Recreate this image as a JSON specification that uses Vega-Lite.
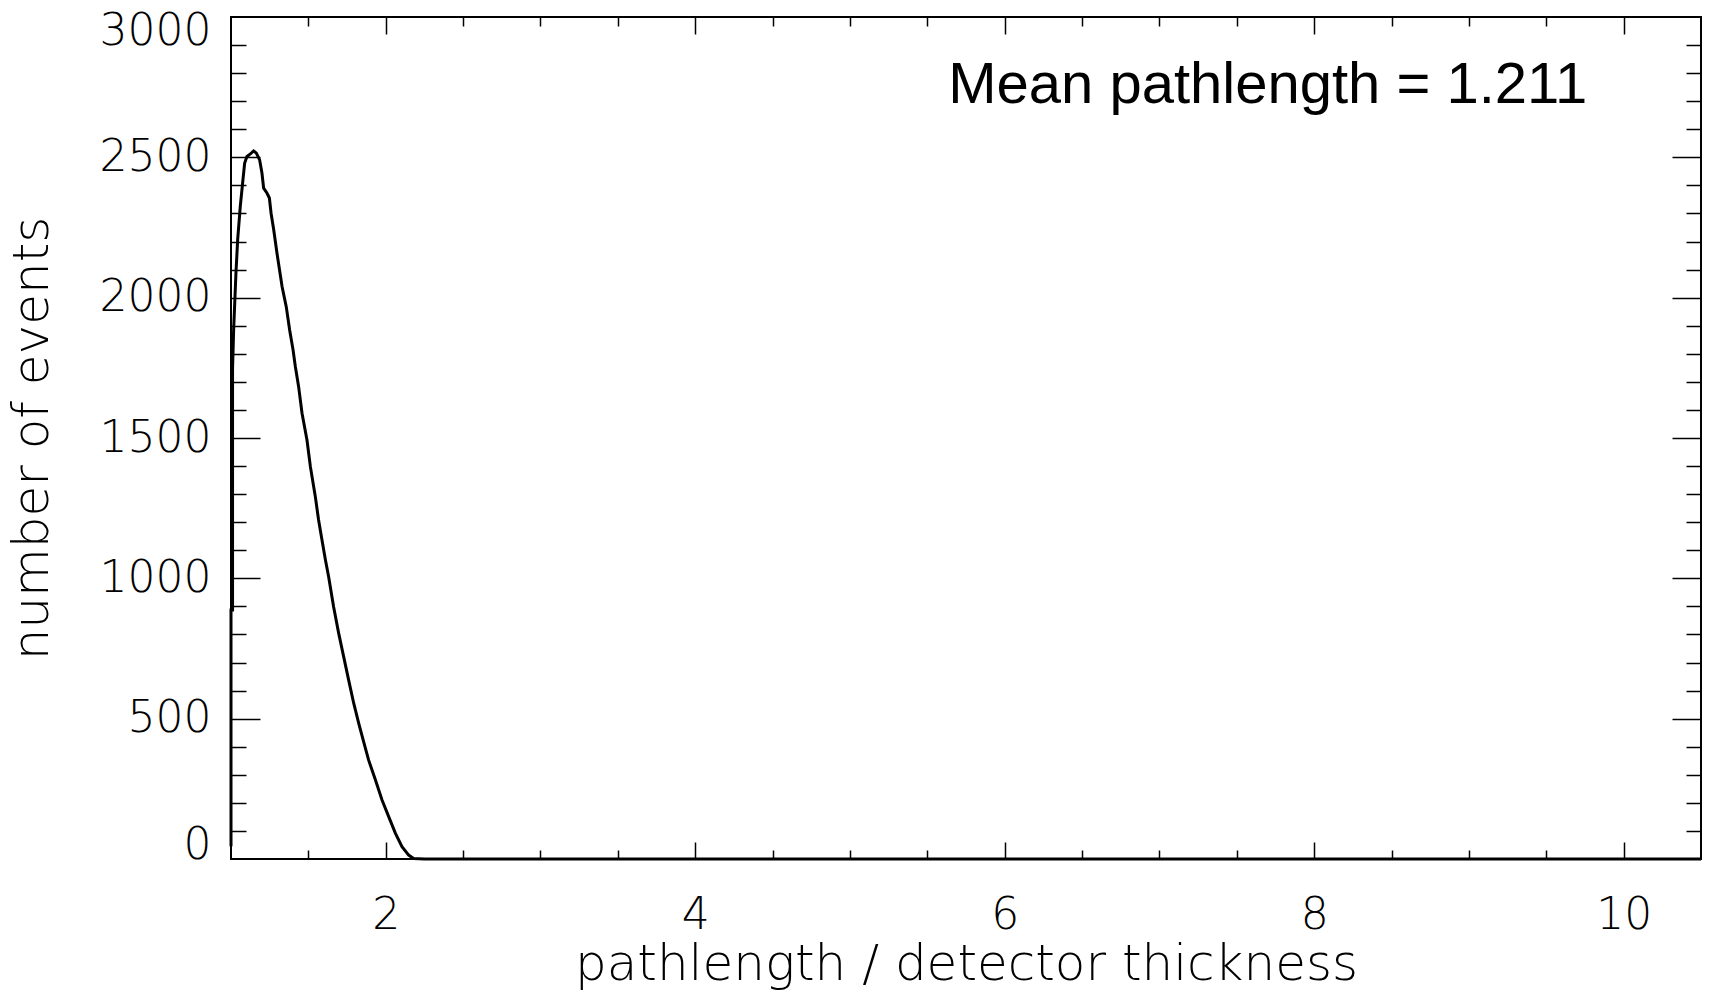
{
  "$schema": "https://vega.github.io/schema/vega-lite/v6.json",
  "width": 1470,
  "height": 842,
  "autosize": {"type": "none"},
  "padding": {"left": 231, "top": 17, "right": 9, "bottom": 143},
  "background": "white",
  "config": {
    "view": {"stroke": "black", "strokeWidth": 2},
    "axis": {
      "domain": false,
      "grid": false,
      "tickColor": "black",
      "tickWidth": 1.5,
      "labelColor": "black",
      "titleColor": "black",
      "labelFont": "DejaVu Sans",
      "titleFont": "DejaVu Sans",
      "labelFontSize": 44,
      "titleFontSize": 50,
      "labelFontWeight": 200,
      "titleFontWeight": 200
    }
  },
  "data": {
    "values": [
      {"i": 0, "x": 1.000, "y": 45},
      {"i": 1, "x": 1.000, "y": 887},
      {"i": 2, "x": 1.010, "y": 887},
      {"i": 3, "x": 1.010, "y": 1745},
      {"i": 4, "x": 1.017, "y": 1885},
      {"i": 5, "x": 1.032, "y": 2088},
      {"i": 6, "x": 1.043, "y": 2206},
      {"i": 7, "x": 1.060, "y": 2325},
      {"i": 8, "x": 1.075, "y": 2408},
      {"i": 9, "x": 1.088, "y": 2479},
      {"i": 10, "x": 1.103, "y": 2503},
      {"i": 11, "x": 1.125, "y": 2512},
      {"i": 12, "x": 1.146, "y": 2523},
      {"i": 13, "x": 1.164, "y": 2515},
      {"i": 14, "x": 1.185, "y": 2491},
      {"i": 15, "x": 1.200, "y": 2444},
      {"i": 16, "x": 1.211, "y": 2390},
      {"i": 17, "x": 1.233, "y": 2372},
      {"i": 18, "x": 1.248, "y": 2355},
      {"i": 19, "x": 1.259, "y": 2301},
      {"i": 20, "x": 1.276, "y": 2242},
      {"i": 21, "x": 1.297, "y": 2159},
      {"i": 22, "x": 1.330, "y": 2040},
      {"i": 23, "x": 1.357, "y": 1968},
      {"i": 24, "x": 1.379, "y": 1885},
      {"i": 25, "x": 1.401, "y": 1814},
      {"i": 26, "x": 1.416, "y": 1754},
      {"i": 27, "x": 1.437, "y": 1683},
      {"i": 28, "x": 1.459, "y": 1588},
      {"i": 29, "x": 1.491, "y": 1493},
      {"i": 30, "x": 1.513, "y": 1398},
      {"i": 31, "x": 1.545, "y": 1291},
      {"i": 32, "x": 1.566, "y": 1208},
      {"i": 33, "x": 1.588, "y": 1137},
      {"i": 34, "x": 1.610, "y": 1066},
      {"i": 35, "x": 1.631, "y": 1006},
      {"i": 36, "x": 1.663, "y": 899},
      {"i": 37, "x": 1.696, "y": 804},
      {"i": 38, "x": 1.728, "y": 721},
      {"i": 39, "x": 1.760, "y": 638},
      {"i": 40, "x": 1.793, "y": 555},
      {"i": 41, "x": 1.825, "y": 484},
      {"i": 42, "x": 1.857, "y": 418},
      {"i": 43, "x": 1.889, "y": 353},
      {"i": 44, "x": 1.933, "y": 282},
      {"i": 45, "x": 1.976, "y": 210},
      {"i": 46, "x": 2.019, "y": 151},
      {"i": 47, "x": 2.062, "y": 92},
      {"i": 48, "x": 2.105, "y": 44},
      {"i": 49, "x": 2.148, "y": 14},
      {"i": 50, "x": 2.180, "y": 2},
      {"i": 51, "x": 2.250, "y": 0},
      {"i": 52, "x": 10.500, "y": 0}
    ]
  },
  "layer": [
    {
      "mark": {"type": "line", "color": "black", "strokeWidth": 3},
      "encoding": {
        "x": {
          "field": "x", "type": "quantitative",
          "scale": {"domain": [1, 10.5], "nice": false, "zero": false},
          "axis": {"orient": "bottom", "values": [2, 4, 6, 8, 10], "format": "d", "ticks": false, "labelPadding": 34, "title": "pathlength / detector thickness", "titlePadding": 2}
        },
        "y": {
          "field": "y", "type": "quantitative",
          "scale": {"domain": [0, 3000], "nice": false},
          "axis": {"orient": "left", "values": [0, 500, 1000, 1500, 2000, 2500, 3000], "format": "d", "ticks": false, "labelPadding": 20, "labelFlush": true, "labelFlushOffset": 8, "title": "number of events", "titlePadding": 42}
        },
        "order": {"field": "i", "type": "quantitative"}
      }
    },
    {
      "mark": {"type": "point", "opacity": 0},
      "encoding": {
        "x": {"field": "x", "type": "quantitative", "axis": {"orient": "bottom", "values": [2, 4, 6, 8, 10], "labels": false, "title": null, "tickSize": -17}},
        "y": {"field": "y", "type": "quantitative", "axis": {"orient": "left", "values": [500, 1000, 1500, 2000, 2500], "labels": false, "title": null, "tickSize": -29}}
      }
    },
    {
      "mark": {"type": "point", "opacity": 0},
      "encoding": {
        "x": {"field": "x", "type": "quantitative", "axis": {"orient": "bottom", "values": [1.5, 2.5, 3, 3.5, 4.5, 5, 5.5, 6.5, 7, 7.5, 8.5, 9, 9.5], "labels": false, "title": null, "tickSize": -9}},
        "y": {"field": "y", "type": "quantitative", "axis": {"orient": "left", "values": [100, 200, 300, 400, 600, 700, 800, 900, 1100, 1200, 1300, 1400, 1600, 1700, 1800, 1900, 2100, 2200, 2300, 2400, 2600, 2700, 2800, 2900], "labels": false, "title": null, "tickSize": -15}}
      }
    },
    {
      "mark": {"type": "point", "opacity": 0},
      "encoding": {
        "x": {"field": "x", "type": "quantitative", "axis": {"orient": "top", "values": [2, 4, 6, 8, 10], "labels": false, "title": null, "tickSize": -17}},
        "y": {"field": "y", "type": "quantitative", "axis": {"orient": "right", "values": [500, 1000, 1500, 2000, 2500], "labels": false, "title": null, "tickSize": -29}}
      }
    },
    {
      "mark": {"type": "point", "opacity": 0},
      "encoding": {
        "x": {"field": "x", "type": "quantitative", "axis": {"orient": "top", "values": [1.5, 2.5, 3, 3.5, 4.5, 5, 5.5, 6.5, 7, 7.5, 8.5, 9, 9.5], "labels": false, "title": null, "tickSize": -9}},
        "y": {"field": "y", "type": "quantitative", "axis": {"orient": "right", "values": [100, 200, 300, 400, 600, 700, 800, 900, 1100, 1200, 1300, 1400, 1600, 1700, 1800, 1900, 2100, 2200, 2300, 2400, 2600, 2700, 2800, 2900], "labels": false, "title": null, "tickSize": -15}}
      }
    },
    {
      "data": {"values": [{"label": "Mean pathlength = 1.211", "x": 7.70, "y": 2692}]},
      "mark": {"type": "text", "font": "Liberation Sans", "fontSize": 58, "align": "center", "baseline": "alphabetic", "color": "black"},
      "encoding": {
        "x": {"field": "x", "type": "quantitative", "axis": null},
        "y": {"field": "y", "type": "quantitative", "axis": null},
        "text": {"field": "label"}
      }
    }
  ],
  "resolve": {"axis": {"x": "independent", "y": "independent"}}
}
